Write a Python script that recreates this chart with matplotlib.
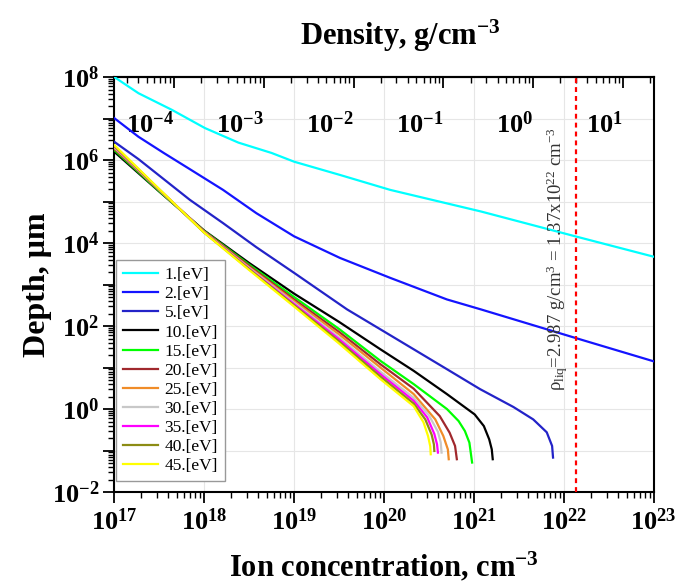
import numpy as np
import matplotlib
matplotlib.use("Agg")
import matplotlib.pyplot as plt
from matplotlib.ticker import LogLocator, NullFormatter

plt.rcParams["font.family"] = ["Liberation Serif", "DejaVu Serif"]
plt.rcParams["mathtext.default"] = "regular"

# liquid reference point: density <-> ion concentration
RHO_LIQ = 2.987      # g/cm^3
N_LIQ = 1.37e22      # cm^-3

# depth (um) vs ion concentration (cm^-3) for each electron temperature
n_1ev = [1.0e17, 1.86e17, 4.37e17, 1.02e18, 2.40e18, 5.62e18, 1.0e19, 3.24e19, 1.17e20, 1.20e21, 1.41e22, 1.0e23]
d_1ev = [1.0e8, 4.07e7, 1.62e7, 5.89e6, 2.63e6, 1.48e6, 9.12e5, 4.37e5, 1.91e5, 5.75e4, 1.41e4, 4.68e3]

n_2ev = [1.0e17, 1.86e17, 3.55e17, 6.92e17, 1.62e18, 3.80e18, 1.0e19, 3.24e19, 1.17e20, 5.01e20, 1.20e21, 1.41e22, 1.0e23]
d_2ev = [1.02e7, 3.63e6, 1.48e6, 6.03e5, 1.91e5, 5.25e4, 1.45e4, 4.37e3, 1.45e3, 4.37e2, 2.51e2, 50.1, 14.1]

n_5ev = [1.0e17, 1.86e17, 6.92e17, 1.62e18, 3.80e18, 1.0e19, 3.89e19, 9.12e19, 5.01e20, 1.17e21, 2.75e21, 4.57e21, 6.46e21, 7.41e21, 7.59e21]
d_5ev = [2.75e6, 1.05e6, 1.10e5, 3.02e4, 7.94e3, 1.91e3, 251, 83.2, 9.12, 3.02, 1.12, 0.562, 0.275, 0.129, 0.0676]

n_10ev = [1.0e17, 3.16e17, 1.0e18, 3.16e18, 1.0e19, 3.16e19, 9.12e19, 2.14e20, 5.01e20, 1.02e21, 1.29e21, 1.48e21, 1.58e21, 1.62e21]
d_10ev = [1.58e6, 1.74e5, 2.0e4, 3.31e3, 603, 126, 27.5, 8.32, 2.29, 0.741, 0.389, 0.186, 0.107, 0.0617]

n_15ev = [1.0e17, 3.16e17, 1.0e18, 3.16e18, 1.0e19, 3.16e19, 9.12e19, 2.14e20, 5.01e20, 6.76e20, 7.94e20, 8.91e20, 9.55e20]
d_15ev = [1.74e6, 1.78e5, 1.95e4, 3.02e3, 501, 85.1, 14.5, 3.98, 1.0, 0.513, 0.295, 0.155, 0.0513]

n_20ev = [1.0e17, 3.16e17, 1.0e18, 3.16e18, 1.0e19, 3.16e19, 9.12e19, 2.14e20, 4.17e20, 5.37e20, 6.17e20, 6.46e20]
d_20ev = [1.86e6, 1.86e5, 1.91e4, 2.82e3, 437, 72.4, 12.0, 3.09, 0.676, 0.269, 0.129, 0.0617]

n_25ev = [1.0e17, 3.16e17, 1.0e18, 3.16e18, 1.0e19, 3.16e19, 9.12e19, 2.14e20, 3.72e20, 4.57e20, 5.13e20, 5.25e20]
d_25ev = [1.95e6, 1.91e5, 1.86e4, 2.63e3, 398, 63.1, 10.0, 2.29, 0.562, 0.224, 0.107, 0.0617]

n_30ev = [1.0e17, 3.16e17, 1.0e18, 3.16e18, 1.0e19, 3.16e19, 9.12e19, 2.14e20, 3.16e20, 3.98e20, 4.27e20, 4.37e20]
d_30ev = [2.04e6, 1.91e5, 1.82e4, 2.51e3, 363, 53.7, 7.94, 1.86, 0.708, 0.282, 0.158, 0.0891]

n_35ev = [1.0e17, 3.16e17, 1.0e18, 3.16e18, 1.0e19, 3.16e19, 9.12e19, 2.14e20, 3.02e20, 3.63e20, 3.89e20, 3.98e20]
d_35ev = [2.14e6, 1.95e5, 1.82e4, 2.40e3, 339, 47.9, 6.92, 1.58, 0.631, 0.251, 0.141, 0.0891]

n_40ev = [1.0e17, 3.16e17, 1.0e18, 3.16e18, 1.0e19, 3.16e19, 9.12e19, 2.14e20, 2.88e20, 3.39e20, 3.59e20, 3.63e20]
d_40ev = [2.19e6, 1.95e5, 1.78e4, 2.34e3, 316, 42.7, 6.03, 1.35, 0.562, 0.240, 0.141, 0.0977]

n_45ev = [1.0e17, 3.16e17, 1.0e18, 3.16e18, 1.0e19, 3.16e19, 9.12e19, 2.14e20, 2.75e20, 3.09e20, 3.27e20, 3.31e20]
d_45ev = [2.29e6, 2.0e5, 1.78e4, 2.24e3, 295, 38.0, 5.25, 1.17, 0.479, 0.224, 0.126, 0.0813]

labels = ["1.[eV]", "2.[eV]", "5.[eV]", "10.[eV]", "15.[eV]", "20.[eV]",
          "25.[eV]", "30.[eV]", "35.[eV]", "40.[eV]", "45.[eV]"]
colors = ["#00FFFF", "#1414FF", "#2323C8", "#000000", "#00FF00", "#A0282D",
          "#F08C28", "#C8C8C8", "#FF00FF", "#8C8C14", "#FFFF00"]
series_n = [n_1ev, n_2ev, n_5ev, n_10ev, n_15ev, n_20ev, n_25ev, n_30ev, n_35ev, n_40ev, n_45ev]
series_d = [d_1ev, d_2ev, d_5ev, d_10ev, d_15ev, d_20ev, d_25ev, d_30ev, d_35ev, d_40ev, d_45ev]

x_ticks = [1e17, 1e18, 1e19, 1e20, 1e21, 1e22, 1e23]
x_tick_labels = [r"$\mathdefault{10^{%d}}$" % p for p in range(17, 24)]
y_ticks = [1e-2, 1e-1, 1e0, 1e1, 1e2, 1e3, 1e4, 1e5, 1e6, 1e7, 1e8]
y_tick_labels = [r"$\mathdefault{10^{-2}}$", "", r"$\mathdefault{10^{0}}$", "",
                 r"$\mathdefault{10^{2}}$", "", r"$\mathdefault{10^{4}}$", "",
                 r"$\mathdefault{10^{6}}$", "", r"$\mathdefault{10^{8}}$"]
dens_ticks = [1e-4, 1e-3, 1e-2, 1e-1, 1e0, 1e1]
dens_tick_labels = [r"$\mathdefault{10^{-4}}$", r"$\mathdefault{10^{-3}}$",
                    r"$\mathdefault{10^{-2}}$", r"$\mathdefault{10^{-1}}$",
                    r"$\mathdefault{10^{0}}$", r"$\mathdefault{10^{1}}$"]


def to_density(n):
    return np.asarray(n) * RHO_LIQ / N_LIQ


def to_conc(r):
    return np.asarray(r) * N_LIQ / RHO_LIQ


fig = plt.figure(figsize=(6.77, 5.84), dpi=100)
ax = fig.add_axes([0.1688, 0.1575, 0.7968, 0.7106])

for n, d, c, lab in zip(series_n, series_d, colors, labels):
    ax.plot(n, d, color=c, lw=1.6, label=lab, zorder=3)

ax.axvline(N_LIQ, color="red", lw=1.6, ls=(0, (2.2, 1.8)), zorder=4)

ax.set_xscale("log")
ax.set_yscale("log")
ax.set_xlim(1e17, 1e23)
ax.set_ylim(1e-2, 1e8)

ax.set_xticks(x_ticks, labels=x_tick_labels)
ax.set_yticks(y_ticks, labels=y_tick_labels)
ax.xaxis.set_minor_locator(LogLocator(base=10, subs=np.arange(2, 10), numticks=30))
ax.yaxis.set_minor_locator(LogLocator(base=10, subs=np.arange(2, 10), numticks=30))
ax.xaxis.set_minor_formatter(NullFormatter())
ax.yaxis.set_minor_formatter(NullFormatter())
ax.tick_params(which="major", direction="out", length=8, width=1.3, labelsize=19,
               top=False, right=False)
ax.tick_params(which="minor", direction="out", length=4, width=1.0,
               top=False, right=False)
ax.tick_params(axis="x", pad=4)
ax.tick_params(axis="y", pad=3)
for lbl in ax.get_xticklabels() + ax.get_yticklabels():
    lbl.set_fontweight("bold")

ax.grid(True, which="major", color="#e6e6e6", lw=0.8)
ax.set_axisbelow(True)
for sp in ax.spines.values():
    sp.set_linewidth(1.5)

ax.set_xlabel(r"Ion concentration, cm$^{\mathdefault{-3}}$", fontsize=22,
              fontweight="bold", labelpad=11)
ax.set_ylabel("Depth, μm", fontsize=23, fontweight="bold", labelpad=0)

# density scale along the top, labels drawn inside the frame
sec = ax.secondary_xaxis("top", functions=(to_density, to_conc))
sec.patch.set_visible(False)
sec.set_zorder(2)
sec.set_xticks(dens_ticks, labels=dens_tick_labels)
sec.xaxis.set_minor_locator(LogLocator(base=10, subs=np.arange(2, 10), numticks=30))
sec.xaxis.set_minor_formatter(NullFormatter())
sec.tick_params(which="major", direction="in", length=8, width=1.3, labelsize=19, pad=-44)
sec.tick_params(which="minor", direction="in", length=4, width=1.0)
for lbl in sec.get_xticklabels():
    lbl.set_fontweight("bold")
    lbl.set_horizontalalignment("right")
sec.spines["top"].set_linewidth(1.5)
sec.set_xlabel(r"Density, g/cm$^{\mathdefault{-3}}$", fontsize=22,
               fontweight="bold", labelpad=20)
sec.xaxis.label.set_x(0.531)

ax.text(8.5e21, 10 ** 3.6,
        r"ρ$_{\mathdefault{liq}}$=2.987 g/cm$^{\mathdefault{3}}$ = 1.37x10$^{\mathdefault{22}}$ cm$^{\mathdefault{-3}}$",
        rotation=90, ha="center", va="center", fontsize=13.5, color="#333333", zorder=5)

leg = ax.legend(loc="lower left", bbox_to_anchor=(0.003, 0.026), borderaxespad=0,
                fontsize=12.5, handlelength=2.0, handletextpad=0.4, labelspacing=0.17,
                borderpad=0.4, fancybox=False, framealpha=1, edgecolor="#999999")
leg.get_frame().set_linewidth(1.0)
leg.set_zorder(6)

fig.savefig("out.png", dpi=100)
